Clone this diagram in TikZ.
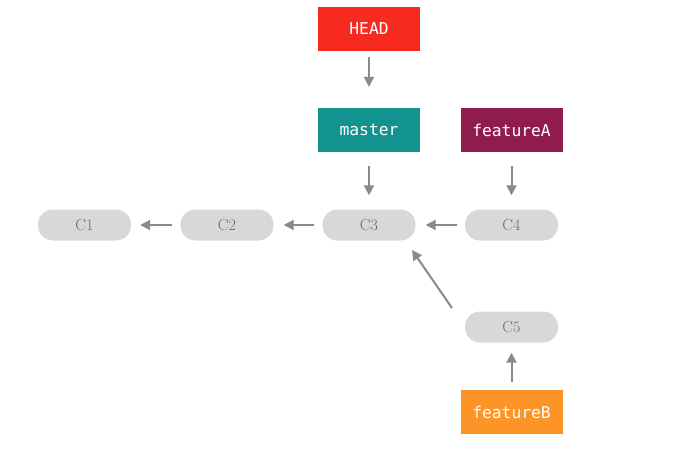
\documentclass[tikz,border=0pt]{standalone}
\usepackage{fontspec}
\newfontfamily\monof{DejaVu Sans Mono}
\usetikzlibrary{arrows.meta}
\definecolor{headred}{HTML}{F62A1E}
\definecolor{masterteal}{HTML}{13938F}
\definecolor{featApurple}{HTML}{8F1B4F}
\definecolor{featBorange}{HTML}{FD9427}
\definecolor{commitgray}{HTML}{D8D8D8}
\definecolor{committext}{HTML}{6A6A6A}
\definecolor{arrowgray}{HTML}{8A8A8A}
\tikzset{
  branchbox/.style={rectangle, minimum width=102pt, minimum height=44pt, inner sep=0pt,
    text=white, font=\monof\fontsize{16.3}{19}\selectfont},
  commitbox/.style={rectangle, rounded corners=15pt, fill=commitgray, minimum width=93pt,
    minimum height=31pt, inner sep=0pt, text=committext, font=\fontsize{16}{19}\selectfont},
  conn/.style={draw=arrowgray, line width=2pt, -{Triangle[length=10pt,width=10pt]}}
}
\begin{document}
\begin{tikzpicture}[x=1pt,y=-1pt]
\useasboundingbox (0,0) rectangle (698,449);
\node[branchbox, fill=headred] (head) at (369,29) {HEAD};
\node[branchbox, fill=masterteal] (master) at (369,130) {master};
\node[branchbox, fill=featApurple] (featA) at (511.5,130) {featureA};
\node[branchbox, fill=featBorange] (featB) at (511.5,412) {featureB};
\node[commitbox] (c1) at (84.5,225) {C1};
\node[commitbox] (c2) at (227,225) {C2};
\node[commitbox] (c3) at (369,225) {C3};
\node[commitbox] (c4) at (511.5,225) {C4};
\node[commitbox] (c5) at (511.5,327) {C5};
\coordinate (c5out) at (452,308);
\coordinate (c3in) at (412,250);
\draw[conn, shorten <=6pt, shorten >=21pt] (head) -- (master);
\draw[conn, shorten <=14pt, shorten >=14pt] (master) -- (c3);
\draw[conn, shorten <=14pt, shorten >=14pt] (featA) -- (c4);
\draw[conn, shorten <=8pt, shorten >=9pt] (c2) -- (c1);
\draw[conn, shorten <=8pt, shorten >=10pt] (c3) -- (c2);
\draw[conn, shorten <=8pt, shorten >=10pt] (c4) -- (c3);
\draw[conn] (c5out) -- (c3in);
\draw[conn, shorten <=8pt, shorten >=10pt] (featB) -- (c5);
\end{tikzpicture}
\end{document}
